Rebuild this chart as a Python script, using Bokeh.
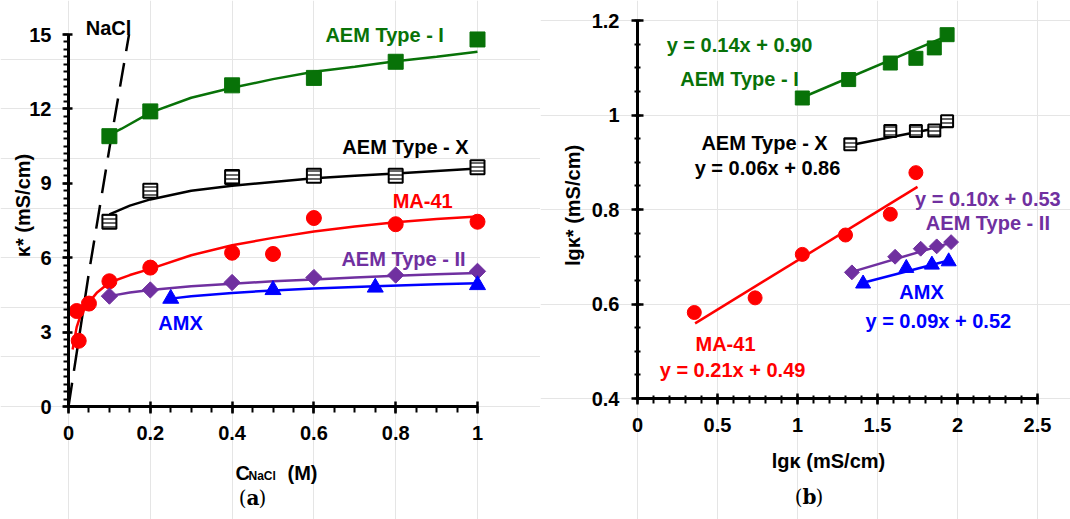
import math
from bokeh.plotting import figure
from bokeh.layouts import row
from bokeh.models import (Label, SingleIntervalTicker, CustomJSTickFormatter, Range1d,
                          LinearAxis)
from bokeh.embed import file_html
from bokeh.resources import INLINE

# ---------------- data: panel (a) ----------------
c_I = [0.1, 0.2, 0.4, 0.6, 0.8, 1.0]
k_I = [10.9, 11.9, 12.95, 13.25, 13.9, 14.8]
fit_c_I = [0.1, 0.13, 0.2, 0.3, 0.4, 0.5, 0.6, 0.7, 0.8, 0.9, 1.0]
fit_k_I = [10.95, 11.2, 11.85, 12.45, 12.85, 13.2, 13.5, 13.7, 13.92, 14.1, 14.3]

c_X = [0.1, 0.2, 0.4, 0.6, 0.8, 1.0]
k_X = [7.45, 8.7, 9.25, 9.3, 9.3, 9.65]
fit_c_X = [0.1, 0.15, 0.2, 0.3, 0.4, 0.5, 0.6, 0.7, 0.8, 0.9, 1.0]
fit_k_X = [7.75, 8.1, 8.35, 8.7, 8.9, 9.05, 9.2, 9.3, 9.4, 9.5, 9.6]

c_MA = [0.02, 0.025, 0.05, 0.1, 0.2, 0.4, 0.5, 0.6, 0.8, 1.0]
k_MA = [3.85, 2.65, 4.15, 5.05, 5.6, 6.2, 6.15, 7.6, 7.35, 7.45]
fit_c_MA = [0.01, 0.02, 0.03, 0.05, 0.07, 0.1, 0.15, 0.2, 0.3, 0.4, 0.5, 0.6, 0.7, 0.8, 0.9, 1.0]
fit_k_MA = [2.3, 3.2, 3.7, 4.2, 4.6, 5.0, 5.3, 5.55, 6.1, 6.5, 6.8, 7.06, 7.26, 7.43, 7.56, 7.66]

c_II = [0.1, 0.2, 0.4, 0.6, 0.8, 1.0]
k_II = [4.45, 4.7, 5.0, 5.2, 5.3, 5.45]
fit_c_II = [0.1, 0.15, 0.2, 0.3, 0.4, 0.5, 0.6, 0.7, 0.8, 0.9, 1.0]
fit_k_II = [4.45, 4.6, 4.7, 4.85, 4.95, 5.05, 5.12, 5.2, 5.27, 5.33, 5.38]

c_AMX = [0.25, 0.5, 0.75, 1.0]
k_AMX = [4.35, 4.7, 4.8, 4.9]
fit_c_AMX = [0.25, 0.3, 0.4, 0.5, 0.6, 0.75, 0.9, 1.0]
fit_k_AMX = [4.35, 4.45, 4.58, 4.68, 4.76, 4.85, 4.93, 4.97]

c_NaCl = [0.0, 0.025, 0.05, 0.1, 0.148]
k_NaCl = [0.0, 2.7, 5.4, 10.4, 15.0]

# ---------------- data: panel (b) ----------------
lx_I = [1.03, 1.32, 1.58, 1.74, 1.855, 1.935]
ly_I = [1.036, 1.075, 1.11, 1.12, 1.142, 1.17]
fit_lx_I = [1.03, 1.94]
fit_ly_I = [1.037, 1.168]

lx_X = [1.33, 1.58, 1.74, 1.855, 1.935]
ly_X = [0.938, 0.966, 0.966, 0.967, 0.987]
fit_lx_X = [1.31, 1.93]
fit_ly_X = [0.935, 0.976]

lx_MA = [0.355, 0.735, 1.03, 1.30, 1.58, 1.74]
ly_MA = [0.582, 0.613, 0.705, 0.746, 0.79, 0.878]
fit_lx_MA = [0.36, 1.75]
fit_ly_MA = [0.559, 0.848]

lx_II = [1.34, 1.61, 1.77, 1.87, 1.96]
ly_II = [0.667, 0.70, 0.717, 0.722, 0.731]
fit_lx_II = [1.34, 1.96]
fit_ly_II = [0.668, 0.73]

lx_AMX = [1.41, 1.68, 1.84, 1.945]
ly_AMX = [0.643, 0.676, 0.683, 0.69]
fit_lx_AMX = [1.41, 1.945]
fit_ly_AMX = [0.645, 0.692]

# ---------------- styling ----------------
FONT = "Liberation Sans"
SERIF = "DejaVu Serif"
GREEN = "#087208"
RED = "#FF0000"
BLUE = "#0000FF"
PURPLE = "#7030A0"
BLACK = "#000000"
TXT = "20px"


def make_axis(loc, interval, minor, bounds, t_in, t_out, m_in, m_out, standoff):
    ax = LinearAxis(fixed_location=loc,
                    ticker=SingleIntervalTicker(interval=interval, num_minor_ticks=minor),
                    formatter=CustomJSTickFormatter(code="return String(Number(tick.toFixed(3)));"),
                    bounds=bounds)
    ax.axis_line_width = 3
    ax.axis_line_color = BLACK
    ax.major_tick_line_width = 2.5
    ax.minor_tick_line_width = 2
    ax.major_tick_in = t_in
    ax.major_tick_out = t_out
    ax.minor_tick_in = m_in
    ax.minor_tick_out = m_out
    ax.major_label_text_font = FONT
    ax.major_label_text_font_style = "bold"
    ax.major_label_text_font_size = TXT
    ax.major_label_text_color = BLACK
    ax.major_label_standoff = standoff
    return ax


def lab(p, x, y, text, color=BLACK, size=TXT, align="center", baseline="middle",
        font=FONT, fstyle="bold", angle=0.0):
    p.add_layout(Label(x=x, y=y, text=text, text_color=color, text_font_size=size,
                       text_align=align, text_baseline=baseline, text_font=font,
                       text_font_style=fstyle, angle=angle))


def base_fig(w, h, xr, yr):
    p = figure(frame_width=w, frame_height=h, x_range=Range1d(*xr), y_range=Range1d(*yr),
               output_backend="svg", toolbar_location=None,
               x_axis_location=None, y_axis_location=None,
               min_border=0, min_border_left=0, min_border_right=0,
               min_border_top=0, min_border_bottom=0)
    p.outline_line_color = None
    return p


# ---------------- panel (a) ----------------
p1 = base_fig(540, 519, (-68 / 409, 472 / 409), (-113 / 24.8, 406 / 24.8))
p1.add_layout(make_axis(0, 0.2, 4, (0, 1.0001), 5, 7, 0, 6, 12), "below")
p1.add_layout(make_axis(0, 3, 10, (0, 15.0001), 4, 6, 0, 5, 11), "left")

p1.line(c_NaCl, k_NaCl, line_color=BLACK, line_width=2.5, line_dash="24 12")

p1.line(fit_c_I, fit_k_I, line_color=GREEN, line_width=2.5)
p1.line(fit_c_X, fit_k_X, line_color=BLACK, line_width=2.5)
p1.line(fit_c_MA, fit_k_MA, line_color=RED, line_width=2.5)
p1.line(fit_c_II, fit_k_II, line_color=PURPLE, line_width=2.5)
p1.line(fit_c_AMX, fit_k_AMX, line_color=BLUE, line_width=2.5)

p1.scatter(c_I, k_I, marker="square", size=15, fill_color=GREEN, line_color=GREEN)
p1.scatter(c_X, k_X, marker="square", size=14, fill_color="white", line_color=BLACK, line_width=2,
           hatch_pattern="horizontal_line", hatch_color="#333333", hatch_scale=4, hatch_weight=1.5)
p1.scatter(c_MA, k_MA, marker="circle", size=15, fill_color=RED, line_color=RED)
p1.scatter(c_II, k_II, marker="square", angle=math.pi / 4, size=11.5, fill_color=PURPLE, line_color=PURPLE)
p1.scatter(c_AMX, k_AMX, marker="triangle", size=16, fill_color=BLUE, line_color=BLUE)

lab(p1, 0.098, 15.28, "NaCl", BLACK)
lab(p1, 0.773, 15.0, "AEM Type - I", GREEN)
lab(p1, 0.824, 10.48, "AEM Type - X", BLACK)
lab(p1, 0.866, 8.27, "MA-41", RED)
lab(p1, 0.819, 5.93, "AEM Type - II", PURPLE)
lab(p1, 0.274, 3.35, "AMX", BLUE)

# axis titles
lab(p1, -46 / 409, (406 - 205) / 24.8, "κ* (mS/cm)", BLACK, angle=math.pi / 2)
lab(p1, (235 - 68) / 409, (406 - 472) / 24.8, "C", BLACK, align="left", baseline="alphabetic")
lab(p1, (248 - 68) / 409, (406 - 475) / 24.8, "NaCl", BLACK, size="12px", align="left", baseline="alphabetic")
lab(p1, (287 - 68) / 409, (406 - 472) / 24.8, "(M)", BLACK, align="left", baseline="alphabetic")

# caption (a)
lab(p1, (246 - 68) / 409, (406 - 497) / 24.8, "(", BLACK, align="right", font=SERIF, fstyle="normal")
lab(p1, (246 - 68) / 409, (406 - 497) / 24.8, "a", BLACK, align="left", font=SERIF)
lab(p1, (258 - 68) / 409, (406 - 497) / 24.8, ")", BLACK, align="left", font=SERIF, fstyle="normal")

# ---------------- panel (b) ----------------
p2 = base_fig(530, 519, (-97 / 160, 433 / 160), (0.4 - 121 / 472.5, 0.4 + 398 / 472.5))
p2.add_layout(make_axis(0.4, 0.5, 5, (0, 2.5001), 5, 6, 3, 5, 13), "below")
p2.add_layout(make_axis(0, 0.2, 4, (0.4, 1.2001), 6, 6, 3, 3, 12), "left")

p2.line(fit_lx_I, fit_ly_I, line_color=GREEN, line_width=2.5)
p2.line(fit_lx_X, fit_ly_X, line_color=BLACK, line_width=2.5)
p2.line(fit_lx_MA, fit_ly_MA, line_color=RED, line_width=2.5)
p2.line(fit_lx_II, fit_ly_II, line_color=PURPLE, line_width=2.5)
p2.line(fit_lx_AMX, fit_ly_AMX, line_color=BLUE, line_width=2.5)

p2.scatter(lx_I, ly_I, marker="square", size=14, fill_color=GREEN, line_color=GREEN)
p2.scatter(lx_X, ly_X, marker="square", size=12, fill_color="white", line_color=BLACK, line_width=2,
           hatch_pattern="horizontal_line", hatch_color="#333333", hatch_scale=4, hatch_weight=1.5)
p2.scatter(lx_MA, ly_MA, marker="circle", size=14, fill_color=RED, line_color=RED)
p2.scatter(lx_II, ly_II, marker="square", angle=math.pi / 4, size=10.5, fill_color=PURPLE, line_color=PURPLE)
p2.scatter(lx_AMX, ly_AMX, marker="triangle", size=15, fill_color=BLUE, line_color=BLUE)

lab(p2, 0.6375, 1.149, "y = 0.14x + 0.90", GREEN)
lab(p2, 0.6375, 1.077, "AEM Type - I", GREEN)
lab(p2, 0.794, 0.94, "AEM Type - X", BLACK)
lab(p2, 0.8125, 0.887, "y = 0.06x + 0.86", BLACK)
lab(p2, 2.19, 0.823, "y = 0.10x + 0.53", PURPLE)
lab(p2, 2.19, 0.772, "AEM Type - II", PURPLE)
lab(p2, 1.775, 0.626, "AMX", BLUE)
lab(p2, 1.88, 0.565, "y = 0.09x + 0.52", BLUE)
lab(p2, 0.55, 0.516, "MA-41", RED)
lab(p2, 0.594, 0.461, "y = 0.21x + 0.49", RED)

lab(p2, (572 - 637) / 160, 0.4 + (398 - 205) / 472.5, "lgκ* (mS/cm)", BLACK, angle=math.pi / 2)
lab(p2, (828 - 637) / 160, 0.4 + (398 - 460) / 472.5, "lgκ (mS/cm)", BLACK)

lab(p2, (802 - 637) / 160, 0.4 + (398 - 496) / 472.5, "(", BLACK, align="right", font=SERIF, fstyle="normal")
lab(p2, (802 - 637) / 160, 0.4 + (398 - 496) / 472.5, "b", BLACK, align="left", font=SERIF)
lab(p2, (815 - 637) / 160, 0.4 + (398 - 496) / 472.5, ")", BLACK, align="left", font=SERIF, fstyle="normal")

layout = row(p1, p2)
open("out.html", "w").write(file_html(layout, INLINE))
